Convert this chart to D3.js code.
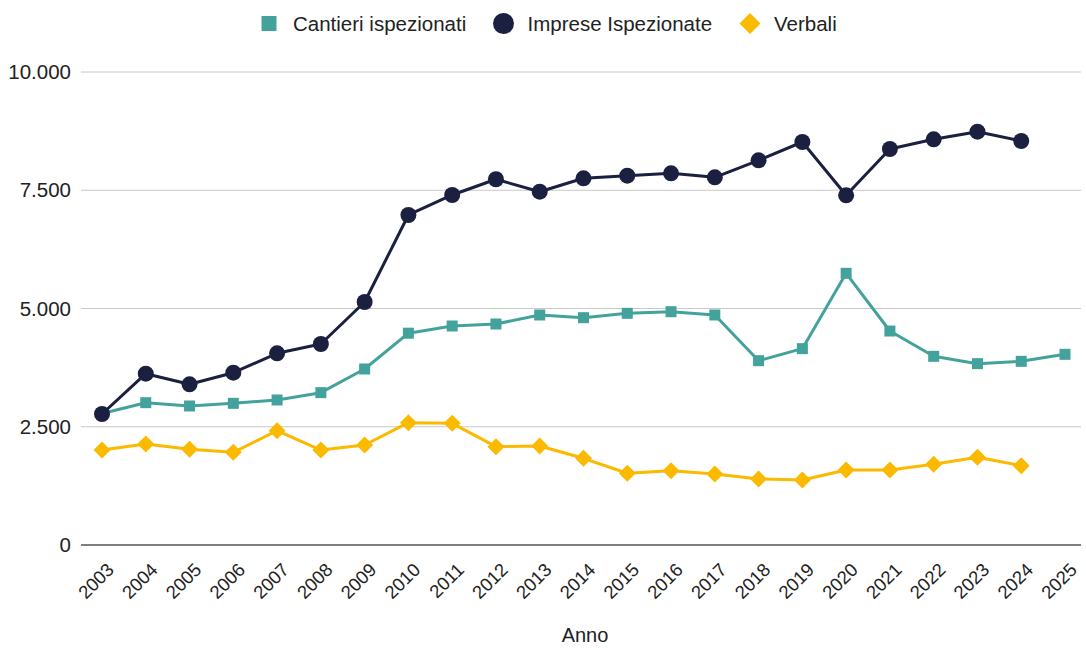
<!DOCTYPE html>
<html>
<head>
<meta charset="utf-8">
<script src="https://cdn.jsdelivr.net/npm/d3@7"></script>
<style>
  body { margin: 0; background: #fff; }
  text { font-family: "Liberation Sans", Arial, sans-serif; fill: #222; }
</style>
</head>
<body>
<svg id="chart" width="1086" height="648"></svg>
<script>
var years = ["2003","2004","2005","2006","2007","2008","2009","2010","2011","2012","2013","2014",
             "2015","2016","2017","2018","2019","2020","2021","2022","2023","2024","2025"];

var cantieri = [2780, 3009, 2939, 2995, 3066, 3221, 3721, 4478, 4630, 4672, 4863, 4806,
                4898, 4932, 4863, 3897, 4151, 5744, 4524, 3989, 3834, 3883, 4031];
var imprese = [2770, 3622, 3397, 3643, 4053, 4249, 5137, 6977, 7400, 7732, 7469, 7753,
               7808, 7858, 7774, 8133, 8520, 7393, 8372, 8577, 8738, 8541, null];
var verbali = [2008, 2135, 2023, 1960, 2417, 2008, 2114, 2586, 2572, 2079, 2093, 1833,
               1516, 1571, 1501, 1395, 1374, 1586, 1586, 1706, 1854, 1677, null];

var yTicks = [0, 2500, 5000, 7500, 10000];
var xTitle = "Anno";

// rotate: 45 turns a square into a diamond
var series = [
  { name: "Cantieri ispezionati", values: cantieri, color: "#43a29b", shape: d3.symbolSquare, size: 121, legSize: 225, rotate: 0 },
  { name: "Imprese Ispezionate", values: imprese, color: "#1b1f40", shape: d3.symbolCircle, size: 201, legSize: 346, rotate: 0 },
  { name: "Verbali", values: verbali, color: "#fbb900", shape: d3.symbolSquare, size: 144, legSize: 220, rotate: 45 }
];

var svg = d3.select("#chart");
var margin = { left: 102, right: 21, top: 72, bottom: 103 };
var W = 1086, H = 648;

var x = d3.scalePoint().domain(years).range([margin.left, W - margin.right]);
var y = d3.scaleLinear().domain([0, 10000]).range([H - margin.bottom, margin.top]);

var fmt = function(v) { return d3.format(",")(v).replace(/,/g, "."); };

// grid
svg.append("g").selectAll("line").data(yTicks).enter().append("line")
  .attr("x1", 81).attr("x2", W - 5)
  .attr("y1", function(d) { return y(d); }).attr("y2", function(d) { return y(d); })
  .attr("stroke", function(d) { return d === 0 ? "#555" : "#c8c8c8"; })
  .attr("stroke-width", function(d) { return d === 0 ? 1.5 : 1; });

svg.append("g").selectAll("text").data(yTicks).enter().append("text")
  .attr("x", 71).attr("y", function(d) { return y(d); })
  .attr("dy", "0.35em").attr("text-anchor", "end")
  .style("font-size", "20.5px")
  .text(fmt);

// x labels
svg.append("g").selectAll("text").data(years).enter().append("text")
  .attr("transform", function(d) { return "translate(" + (x(d) + 13) + ",571) rotate(-45)"; })
  .attr("text-anchor", "end")
  .style("font-size", "18.5px")
  .text(function(d) { return d; });

svg.append("text").attr("x", 585).attr("y", 642)
  .attr("text-anchor", "middle").style("font-size", "20px").text(xTitle);

// lines
series.forEach(function(s) {
  var pts = years.map(function(yr, i) { return { yr: yr, v: s.values[i] }; })
    .filter(function(p) { return p.v != null; });
  var line = d3.line().x(function(p) { return x(p.yr); }).y(function(p) { return y(p.v); });
  svg.append("path").datum(pts)
    .attr("d", line).attr("fill", "none")
    .attr("stroke", s.color).attr("stroke-width", 3).attr("stroke-linejoin", "round");
  svg.append("g").selectAll("path").data(pts).enter().append("path")
    .attr("d", d3.symbol().type(s.shape).size(s.size))
    .attr("transform", function(p) { return "translate(" + x(p.yr) + "," + y(p.v) + ") rotate(" + s.rotate + ")"; })
    .attr("fill", s.color);
});

// legend
var legX = [269, 503.5, 750];
var leg = svg.append("g").selectAll("g").data(series).enter().append("g")
  .attr("transform", function(d, i) { return "translate(" + legX[i] + ",23.5)"; });
leg.append("path")
  .attr("d", function(d) { return d3.symbol().type(d.shape).size(d.legSize)(); })
  .attr("transform", function(d) { return "rotate(" + d.rotate + ")"; })
  .attr("fill", function(d) { return d.color; });
leg.append("text").attr("x", 24).attr("dy", "0.35em")
  .style("font-size", "20.5px")
  .text(function(d) { return d.name; });
</script>
</body>
</html>
